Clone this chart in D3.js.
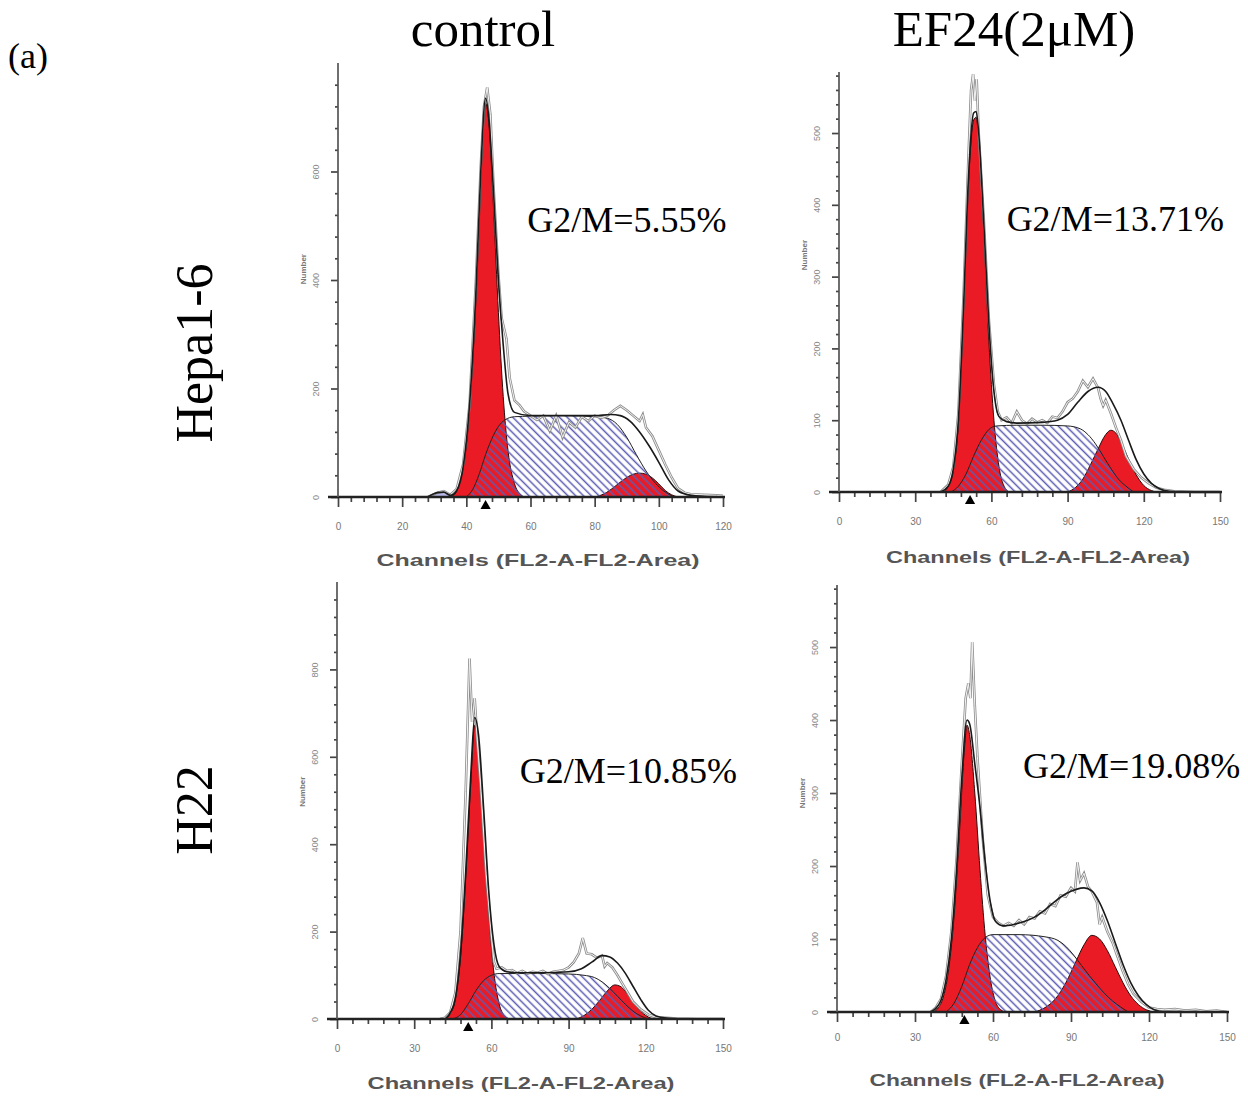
<!DOCTYPE html>
<html>
<head>
<meta charset="utf-8">
<script src="https://cdn.jsdelivr.net/npm/d3@7/dist/d3.min.js"></script>
<style>
  body { margin: 0; background: #fff; }
  svg { display: block; }
</style>
</head>
<body>
<div id="chart"></div>
<script>
// ---- titles / labels ----
const columnTitles = ["control", "EF24(2μM)"];
const rowTitles = ["Hepa1-6", "H22"];
const g2mLabels = ["G2/M=5.55%", "G2/M=13.71%", "G2/M=10.85%", "G2/M=19.08%"];
const xAxisTitle = "Channels (FL2-A-FL2-Area)";
const yAxisTitle = "Number";

// ---- tick labels ----
const xTicks120 = [0, 20, 40, 60, 80, 100, 120];
const xTicks150 = [0, 30, 60, 90, 120, 150];
const yTicks600 = [0, 200, 400, 600];
const yTicks800 = [0, 200, 400, 600, 800];
const yTicks500 = [0, 100, 200, 300, 400, 500];

// ---- Hepa1-6 control  [channel, count] ----
const hepaCtrlG1 = [[34,0],[36,3],[38,28],[40,95],[42,250],[43.5,430],[45,640],[46,726],[47,690],[48.5,530],[50,340],[51.5,185],[53,85],[55,25],[57,4],[58,0]];
const hepaCtrlS = [[40,0],[42,14],[44,42],[46,78],[48,108],[50,130],[52,142],[55,148],[60,149],[70,150],[80,148],[84,145],[87,134],[90,110],[93,78],[96,48],[99,25],[102,9],[105,0]];
const hepaCtrlG2 = [[80,0],[83,6],[86,18],[89,32],[92,42],[94,44],[96,42],[98,35],[100,24],[102,12],[104,4],[106,0]];
const hepaCtrlDebris = [[28,0],[30,6],[32,10],[34,7],[35.5,0]];
const hepaCtrlFit = [[28,0],[31,8],[33,9],[35,3],[37,12],[39,55],[41,170],[43,380],[44.5,600],[46,735],[47,700],[48.5,560],[50,400],[51.5,280],[53,190],[55,156],[60,150],[70,150],[80,150],[85,152],[88,150],[91,140],[94,120],[97,94],[100,64],[103,32],[106,11],[110,3],[114,1],[120,0]];
const hepaCtrlRaw = [[28,0],[31,8],[33,11],[35,4],[37,15],[39,60],[41,170],[43,400],[44.5,610],[45.5,720],[46.5,755],[47.5,705],[48.5,570],[50,410],[51,330],[52.5,292],[53.5,220],[55,178],[56.5,170],[58,158],[60,150],[62,142],[64,150],[66,122],[68,150],[70,110],[72,138],[74,128],[76,148],[78,140],[80,150],[82,146],[84,150],[86,160],[88,168],[90,160],[92,150],[94,140],[95,152],[96,128],[98,112],[100,86],[102,60],[104,36],[106,16],[108,8],[110,5],[114,4],[118,3],[120,2]];

// ---- Hepa1-6 EF24 ----
const hepaEfG1 = [[41,0],[43,8],[45,30],[47,95],[49,250],[51,430],[53,518],[54,522],[55,490],[57,360],[59,210],[61,100],[63,35],[65,8],[67,0]];
const hepaEfS = [[44,0],[47,8],[50,25],[53,50],[56,72],[59,87],[62,92],[70,93],[80,93],[90,92],[95,88],[98,80],[101,67],[104,50],[107,33],[110,18],[113,8],[116,0]];
const hepaEfG2 = [[90,0],[93,6],[96,18],[99,38],[102,60],[105,80],[107,86],[109,82],[111,70],[114,46],[117,24],[120,9],[123,2],[125,0]];
const hepaEfFit = [[40,0],[43,8],[45,32],[47,100],[49,255],[51,440],[53,528],[54,530],[55,500],[57,375],[59,235],[61,140],[63,105],[66,98],[70,96],[80,97],[86,100],[90,108],[94,125],[98,140],[102,146],[105,140],[108,122],[111,100],[114,72],[117,45],[120,25],[123,12],[126,5],[130,1],[135,0],[150,0]];
const hepaEfRaw = [[40,0],[43,10],[45,35],[47,110],[49,270],[51,470],[52,560],[52.8,582],[53.5,545],[54.2,575],[55,500],[57,380],[59,240],[61,150],[62.5,112],[64,100],[66,104],[68,96],[70,112],[72,100],[74,95],[76,102],[78,97],[80,100],[82,96],[84,105],[86,103],[88,112],[90,125],[92,130],[94,140],[96,155],[98,146],[100,158],[102,145],[103,130],[104,120],[105,128],[107,110],[109,90],[111,72],[113,50],[116,32],[119,20],[122,12],[125,6],[128,3],[132,1],[140,0],[150,0]];

// ---- H22 control ----
const h22CtrlG1 = [[42,0],[44,12],[46,45],[48,140],[50,320],[52,540],[53.5,672],[55,620],[57,440],[59,240],[61,105],[63,35],[65,8],[67,0]];
const h22CtrlS = [[45,0],[48,10],[51,35],[54,65],[57,88],[60,100],[63,104],[70,104],[80,104],[90,103],[96,100],[100,95],[103,85],[106,70],[109,52],[112,34],[115,18],[118,7],[121,0]];
const h22CtrlG2 = [[93,0],[96,8],[99,22],[102,42],[105,64],[108,78],[110,75],[112,64],[114,48],[116,32],[118,18],[120,8],[122,2],[124,0]];
const h22CtrlFit = [[42,0],[44,14],[46,48],[48,150],[50,335],[52,560],[53.5,690],[55,650],[57,480],[59,290],[61,170],[63,120],[66,108],[70,106],[80,106],[90,108],[95,115],[99,130],[103,145],[106,142],[109,128],[112,105],[115,75],[118,45],[121,20],[124,7],[128,2],[135,0],[150,0]];
const h22CtrlRaw = [[40,0],[42,3],[44,15],[46,60],[48,200],[50,520],[51.5,825],[52.5,680],[53.5,734],[54.5,640],[56,520],[58,330],[60,190],[61,130],[62,115],[64,118],[66,110],[68,112],[70,105],[72,110],[74,104],[76,108],[78,106],[80,110],[82,103],[84,108],[86,110],[88,112],[90,118],[92,130],[94,150],[95.5,185],[97,150],[99,148],[101,140],[103,145],[104,120],[105,128],[107,118],[109,100],[111,80],[113,60],[115,40],[118,22],[121,10],[124,4],[128,3],[132,1],[140,0],[150,0]];

// ---- H22 EF24 ----
const h22EfG1 = [[37,0],[39,6],[41,22],[43,60],[45,130],[47,240],[49,360],[50,393],[51,380],[53,300],[55,195],[57,105],[59,45],[61,14],[63,3],[65,0]];
const h22EfS = [[42,0],[45,12],[48,35],[51,65],[54,88],[57,102],[60,106],[70,106],[80,103],[85,98],[88,90],[91,78],[94,64],[97,50],[100,37],[103,25],[106,15],[109,7],[112,0]];
const h22EfG2 = [[76,0],[80,6],[84,18],[88,40],[92,70],[95,92],[98,105],[101,100],[104,84],[107,62],[110,40],[113,22],[116,10],[119,3],[122,0]];
const h22EfFit = [[36,0],[38,5],[40,16],[42,45],[44,100],[46,195],[48,320],[50,400],[51,395],[53,340],[55,280],[57,205],[59,150],[61,124],[64,118],[68,120],[72,124],[76,130],[80,140],[84,152],[88,162],[92,168],[95,170],[98,166],[101,150],[104,125],[107,95],[110,65],[113,40],[116,22],[119,10],[122,3],[126,0],[150,0]];
const h22EfRaw = [[36,0],[38,6],[40,18],[42,50],[44,110],[46,210],[48,340],[49.5,430],[50.5,450],[51.3,430],[52,507],[53,420],[54,350],[56,240],[58,160],[60,130],[62,122],[64,118],[66,122],[68,118],[70,126],[72,120],[74,130],[76,128],[78,138],[80,135],[82,148],[84,145],[86,160],[88,158],[90,170],[91.5,165],[92.5,205],[93.5,180],[95,190],[96.5,172],[98,165],[100,150],[101,120],[102,130],[104,110],[106,95],[108,75],[110,55],[112,38],[114,25],[117,14],[120,6],[123,4],[126,3],[130,4],[134,2],[138,3],[142,1],[146,2],[150,0]];

// G1 marker channel (black triangle under the axis)
const markerChannels = [46, 51.6, 51, 49];

// panel table: data + placement on the page
const panels = [
  { g1: hepaCtrlG1, s: hepaCtrlS, g2: hepaCtrlG2, debris: hepaCtrlDebris, fit: hepaCtrlFit, raw: hepaCtrlRaw,
    xMax: 120, yMax: 800, xTicks: xTicks120, yTicks: yTicks600, xMinor: 4, yMinor: 40,
    box: [338, 723, 497, 63], label: g2mLabels[0], marker: markerChannels[0],
    textAt: [59, 488], numberAt: 420, titleX: 538, titleY: 566, titleW: 323, pad: 16 },
  { g1: hepaEfG1, s: hepaEfS, g2: hepaEfG2, debris: null, fit: hepaEfFit, raw: hepaEfRaw,
    xMax: 150, yMax: 585, xTicks: xTicks150, yTicks: yTicks500, xMinor: 6, yMinor: 20,
    box: [839, 1220, 492, 72], label: g2mLabels[1], marker: markerChannels[1],
    textAt: [66, 363], numberAt: 330, titleX: 1038, titleY: 563, titleW: 304, pad: 16 },
  { g1: h22CtrlG1, s: h22CtrlS, g2: h22CtrlG2, debris: null, fit: h22CtrlFit, raw: h22CtrlRaw,
    xMax: 150, yMax: 1000, xTicks: xTicks150, yTicks: yTicks800, xMinor: 6, yMinor: 40,
    box: [337, 723, 1019, 582], label: g2mLabels[2], marker: markerChannels[2],
    textAt: [71, 539], numberAt: 520, titleX: 521, titleY: 1089, titleW: 307, pad: 16 },
  { g1: h22EfG1, s: h22EfS, g2: h22EfG2, debris: null, fit: h22EfFit, raw: h22EfRaw,
    xMax: 150, yMax: 585, xTicks: xTicks150, yTicks: yTicks500, xMinor: 6, yMinor: 20,
    box: [837, 1227, 1012, 585], label: g2mLabels[3], marker: markerChannels[3],
    textAt: [71.5, 320], numberAt: 300, titleX: 1017, titleY: 1086, titleW: 295, pad: 12 }
];

const RED = "#ea1b24";
const HATCH = "#5c5cb4";
const serif = "'Liberation Serif', 'Times New Roman', serif";
const sans = "'Liberation Sans', Arial, sans-serif";

const svg = d3.select("#chart").append("svg")
  .attr("width", 1248).attr("height", 1105);

svg.append("rect").attr("width", 1248).attr("height", 1105).attr("fill", "#fff");

const defs = svg.append("defs");
const pat = defs.append("pattern")
  .attr("id", "hatch")
  .attr("patternUnits", "userSpaceOnUse")
  .attr("width", 5.5).attr("height", 5.5)
  .attr("patternTransform", "rotate(-45)");
pat.append("line")
  .attr("x1", 1.5).attr("y1", 0).attr("x2", 1.5).attr("y2", 5.5)
  .attr("stroke", HATCH).attr("stroke-width", 1.5);

// headings
svg.append("text").attr("x", 8).attr("y", 68)
  .attr("font-family", serif).attr("font-size", 36).text("(a)");

[483, 1014].forEach((cx, i) => {
  svg.append("text").attr("x", cx).attr("y", 46)
    .attr("text-anchor", "middle")
    .attr("font-family", serif).attr("font-size", 51)
    .text(columnTitles[i]);
});

[353, 810].forEach((cy, i) => {
  svg.append("text")
    .attr("transform", `translate(212,${cy}) rotate(-90)`)
    .attr("text-anchor", "middle")
    .attr("font-family", serif).attr("font-size", 52)
    .text(rowTitles[i]);
});

panels.forEach(p => {
  const [xl, xr, yb, yt] = p.box;
  const x = d3.scaleLinear().domain([0, p.xMax]).range([xl, xr]);
  const y = d3.scaleLinear().domain([0, p.yMax]).range([yb, yt]);
  const g = svg.append("g");

  const area = d3.area()
    .x(d => x(d[0])).y0(y(0)).y1(d => y(d[1]))
    .curve(d3.curveMonotoneX);
  const line = d3.line()
    .x(d => x(d[0])).y(d => y(d[1]))
    .curve(d3.curveMonotoneX);
  const rawLine = d3.line()
    .x(d => x(d[0])).y(d => y(d[1]));

  // G1, G2 solid red
  [p.g1, p.g2].forEach(arr => {
    g.append("path").datum(arr).attr("d", area)
      .attr("fill", RED).attr("stroke", "#2a0a0a").attr("stroke-width", 1);
  });
  // S phase hatched
  g.append("path").datum(p.s).attr("d", area)
    .attr("fill", "url(#hatch)").attr("stroke", "#222").attr("stroke-width", 1);
  if (p.debris) {
    g.append("path").datum(p.debris).attr("d", area)
      .attr("fill", "#b8b8e8").attr("stroke", "#555").attr("stroke-width", 0.8);
  }

  // raw data (hollow grey trace) and model fit
  g.append("path").datum(p.raw).attr("d", rawLine)
    .attr("fill", "none").attr("stroke", "#8c8c8c").attr("stroke-width", 2.6);
  g.append("path").datum(p.raw).attr("d", rawLine)
    .attr("fill", "none").attr("stroke", "#f4f4f4").attr("stroke-width", 1);
  g.append("path").datum(p.fit).attr("d", line)
    .attr("fill", "none").attr("stroke", "#1a1a1a").attr("stroke-width", 1.6);

  // axes
  const xMinorVals = d3.range(0, p.xMax + 0.01, p.xMinor).filter(v => !p.xTicks.includes(v));
  const yMinorVals = d3.range(0, p.yMax, p.yMinor).filter(v => !p.yTicks.includes(v) && v % 100 !== 0 || (v > d3.max(p.yTicks)));

  const xMajor = g.append("g").attr("transform", `translate(0,${yb})`)
    .call(d3.axisBottom(x).tickValues(p.xTicks).tickSize(10).tickPadding(p.pad));
  const xMin = g.append("g").attr("transform", `translate(0,${yb})`)
    .call(d3.axisBottom(x).tickValues(xMinorVals).tickSize(5).tickFormat(""));
  const yMajor = g.append("g").attr("transform", `translate(${xl},0)`)
    .call(d3.axisLeft(y).tickValues(p.yTicks).tickSize(7));
  const yMin = g.append("g").attr("transform", `translate(${xl},0)`)
    .call(d3.axisLeft(y).tickValues(yMinorVals).tickSize(3).tickFormat(""));

  [xMajor, xMin, yMajor, yMin].forEach(a => {
    a.select(".domain").remove();
    a.selectAll("line").attr("stroke", "#444").attr("stroke-width", 1.7);
  });
  xMajor.selectAll("text")
    .attr("font-family", sans).attr("font-size", 10).attr("fill", "#777");
  yMajor.selectAll("text")
    .attr("transform", "rotate(-90)")
    .attr("x", 0).attr("y", -19).attr("dy", 0)
    .attr("text-anchor", "middle")
    .attr("font-family", sans).attr("font-size", 9).attr("fill", "#888");

  // axis lines
  g.append("line").attr("x1", xl - 10).attr("x2", xr + 2).attr("y1", yb).attr("y2", yb)
    .attr("stroke", "#222").attr("stroke-width", 2.4);
  g.append("line").attr("x1", xl).attr("x2", xl).attr("y1", yt).attr("y2", yb)
    .attr("stroke", "#555").attr("stroke-width", 1.7);

  // G1 marker
  g.append("path")
    .attr("d", d3.symbol(d3.symbolTriangle).size(45))
    .attr("transform", `translate(${x(p.marker)},${yb + 9})`)
    .attr("fill", "#000");

  // y title
  g.append("text")
    .attr("transform", `translate(${xl - 32},${y(p.numberAt)}) rotate(-90)`)
    .attr("text-anchor", "middle")
    .attr("font-family", sans).attr("font-size", 8).attr("font-weight", "bold").attr("fill", "#777")
    .text(yAxisTitle);

  // x title
  g.append("text")
    .attr("x", p.titleX).attr("y", p.titleY)
    .attr("text-anchor", "middle")
    .attr("font-family", sans).attr("font-size", 17).attr("font-weight", "bold")
    .attr("fill", "#555")
    .attr("textLength", p.titleW).attr("lengthAdjust", "spacingAndGlyphs")
    .text(xAxisTitle);

  // G2/M percentage
  g.append("text")
    .attr("x", x(p.textAt[0])).attr("y", y(p.textAt[1]))
    .attr("font-family", serif).attr("font-size", 36)
    .text(p.label);
});
</script>
</body>
</html>
